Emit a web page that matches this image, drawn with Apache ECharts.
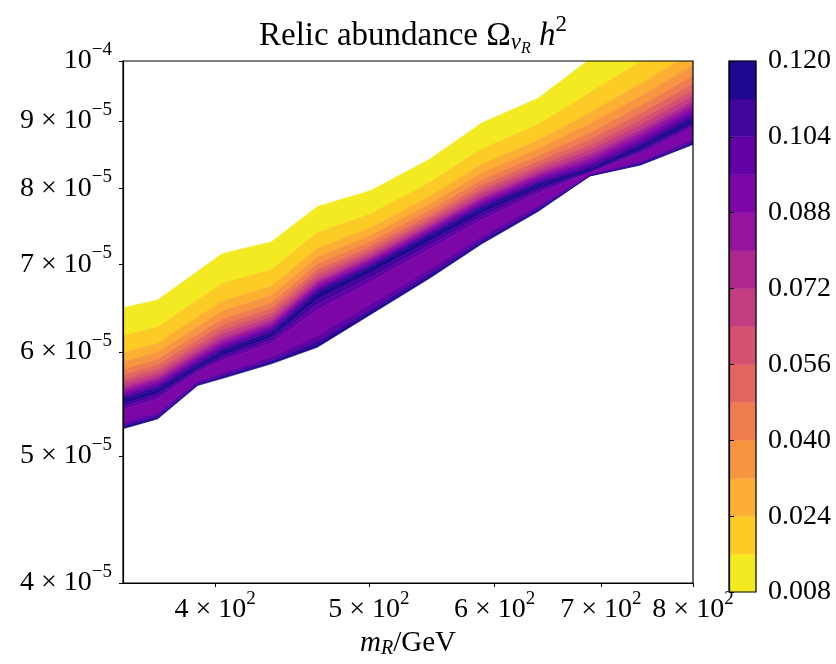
<!DOCTYPE html>
<html><head><meta charset="utf-8">
<script src="https://cdn.jsdelivr.net/npm/echarts@6/dist/echarts.min.js"></script>
<style>html,body{margin:0;padding:0;background:#fff}#c{width:836px;height:664px}</style>
</head><body><div id="c"></div>
<script>
// x grid (m_R in GeV)
const mR = [350, 368, 390, 404, 434, 464, 501, 546, 589, 639, 689, 741, 800];
// contour levels of Omega h^2
const levels = [0.008,0.016,0.024,0.032,0.040,0.048,0.056,0.064,0.072,0.080,0.088,0.096,0.104,0.112,0.120];
const cbTicks = [0.008,0.024,0.040,0.056,0.072,0.088,0.104,0.120];
const xTicks = [400,500,600,700,800];
const yTicks = [4e-5,5e-5,6e-5,7e-5,8e-5,9e-5,1e-4];
// contour line positions (y in units of 1e-5) along mR, upper fan
const c008 = [6.485,6.575,6.913,7.131,7.280,7.746,7.964,8.416,8.971,9.366,10.036,10.661,11.345];
const c016 = [6.174,6.269,6.574,6.767,6.934,7.398,7.645,8.079,8.571,8.945,9.461,9.988,10.584];
const c024 = [5.994,6.092,6.378,6.558,6.734,7.196,7.459,7.883,8.341,8.701,9.132,9.604,10.153];
const c032 = [5.897,5.996,6.272,6.445,6.626,7.087,7.358,7.776,8.215,8.568,8.954,9.397,9.921];
const c040 = [5.820,5.921,6.190,6.355,6.541,7.000,7.279,7.692,8.115,8.464,8.814,9.235,9.739];
const c048 = [5.763,5.865,6.128,6.289,6.477,6.935,7.218,7.629,8.041,8.385,8.710,9.116,9.604];
const c056 = [5.716,5.819,6.076,6.235,6.425,6.883,7.170,7.578,7.980,8.322,8.625,9.018,9.493];
const c064 = [5.678,5.782,6.036,6.192,6.384,6.840,7.131,7.536,7.932,8.270,8.558,8.938,9.407];
const c072 = [5.641,5.745,5.995,6.148,6.342,6.798,7.092,7.494,7.884,8.219,8.490,8.861,9.320];
const c080 = [5.614,5.718,5.965,6.116,6.311,6.767,7.064,7.465,7.849,8.182,8.440,8.804,9.256];
const c088 = [5.586,5.691,5.935,6.085,6.281,6.735,7.034,7.434,7.813,8.144,8.391,8.746,9.192];
const c096 = [5.563,5.668,5.911,6.058,6.255,6.710,7.010,7.408,7.783,8.113,8.349,8.699,9.138];
const c104 = [5.541,5.646,5.886,6.031,6.230,6.684,6.987,7.384,7.753,8.083,8.309,8.652,9.086];
const c112 = [5.523,5.627,5.866,6.011,6.210,6.664,6.967,7.363,7.730,8.058,8.276,8.614,9.044];
const c120 = [5.504,5.610,5.847,5.990,6.190,6.643,6.948,7.343,7.707,8.033,8.243,8.577,9.002];
// lower fold below the 0.120 ridge
const f112a = [5.478,5.582,5.828,5.963,6.158,6.582,6.892,7.290,7.660,7.997,8.236,8.552,8.965];
const f104a = [5.452,5.554,5.809,5.936,6.126,6.521,6.836,7.237,7.614,7.961,8.229,8.527,8.928];
const f096a = [5.425,5.526,5.790,5.910,6.094,6.460,6.781,7.185,7.569,7.926,8.222,8.502,8.890];
const f096b = [5.301,5.395,5.700,5.784,5.945,6.178,6.522,6.939,7.352,7.756,8.188,8.382,8.716];
const f104b = [5.276,5.368,5.681,5.758,5.914,6.121,6.469,6.889,7.308,7.721,8.181,8.358,8.680];
const f112b = [5.260,5.352,5.669,5.743,5.896,6.086,6.438,6.859,7.281,7.701,8.177,8.344,8.657];
const fEdge = [5.245,5.336,5.658,5.727,5.877,6.052,6.407,6.829,7.255,7.680,8.172,8.329,8.637];

const Y_UNIT = 1e-5;
const fanLines = [c008,c016,c024,c032,c040,c048,c056,c064,c072,c080,c088,c096,c104,c112,c120];
const foldLines = [c120,f112a,f104a,f096a,f096b,f104b,f112b,fEdge];
const foldBand = [13,12,11,10,11,12,13];

const plasmaStops = [[13,8,135],[65,4,157],[106,0,168],[143,13,164],[177,42,144],[204,71,120],[225,100,98],[242,132,75],[252,166,54],[252,206,37],[240,249,33]];
function plasma(t){
  const s = Math.max(0,Math.min(1,t))*10;
  const i = Math.min(9,Math.floor(s)); const f = s-i;
  const a = plasmaStops[i], b = plasmaStops[i+1];
  return 'rgb('+[0,1,2].map(k=>Math.round(a[k]+(b[k]-a[k])*f)).join(',')+')';
}
function bandColor(i){ return plasma(1-(i+0.5)/(levels.length-1)); }

const bands = [];
for (let i=0;i<fanLines.length-1;i++) bands.push({top:fanLines[i], bot:fanLines[i+1], c:i});
for (let j=0;j<foldLines.length-1;j++) bands.push({top:foldLines[j], bot:foldLines[j+1], c:foldBand[j]});

const FONT = '"Liberation Serif","DejaVu Serif",serif';
const richTick = {
  b:{fontFamily:FONT,fontSize:28,fontWeight:'normal',color:'#000'},
  s:{fontFamily:FONT,fontSize:19,fontWeight:'normal',color:'#000',padding:[0,0,22,0]}
};
function sci(v){
  const e = Math.floor(Math.log10(v)+1e-9);
  const m = Math.round(v/Math.pow(10,e));
  const es = (e<0?'\u2212':'')+Math.abs(e);
  return (m===1?'{b|10}':'{b|'+m+' \u00d7 10}')+'{s|'+es+'}';
}

const chart = echarts.init(document.getElementById('c'), null, {renderer:'canvas'});
chart.setOption({
  animation:false,
  backgroundColor:'#fff',
  title:{
    text:'{t|Relic abundance \u03a9}{nu|\u03bd}{r|R}{h| h}{sp|2}',
    left:408, top:8, textAlign:'center',
    textStyle:{fontWeight:'normal',rich:{
      t:{fontFamily:FONT,fontSize:33,fontWeight:'normal',color:'#000'},
      nu:{fontFamily:FONT,fontSize:23,fontStyle:'italic',fontWeight:'normal',color:'#000',padding:[12,0,0,0]},
      r:{fontFamily:FONT,fontSize:16,fontStyle:'italic',fontWeight:'normal',color:'#000',padding:[24,0,0,0]},
      h:{fontFamily:FONT,fontSize:33,fontStyle:'italic',fontWeight:'normal',color:'#000'},
      sp:{fontFamily:FONT,fontSize:23,fontWeight:'normal',color:'#000',padding:[0,0,24,0]}
    }}
  },
  grid:[
    {left:123, top:61, width:570, height:531},
    {left:729, top:61, width:27, height:531}
  ],
  xAxis:[
    {type:'log', gridIndex:0, logBase:10, min:350, max:800, z:10,
     axisLine:{show:true,lineStyle:{color:'#000',width:1.2}},
     axisTick:{show:true,customValues:xTicks,length:4,lineStyle:{color:'#000',width:1}},
     minorTick:{show:false}, splitLine:{show:false},
     axisLabel:{customValues:xTicks,margin:6,formatter:v=>sci(v),rich:richTick},
     name:'{m|m}{sub|R}{n|/GeV}', nameLocation:'middle', nameGap:38,
     nameTextStyle:{rich:{
       m:{fontFamily:FONT,fontSize:29,fontStyle:'italic',color:'#000'},
       sub:{fontFamily:FONT,fontSize:20,fontStyle:'italic',color:'#000',padding:[12,0,0,0]},
       n:{fontFamily:FONT,fontSize:29,color:'#000'}
     }}},
    {type:'value', gridIndex:1, min:0, max:1, show:false}
  ],
  yAxis:[
    {type:'log', gridIndex:0, logBase:10, min:4e-5, max:1e-4, z:10,
     axisLine:{show:true,lineStyle:{color:'#000',width:1.2}},
     axisTick:{show:true,customValues:yTicks,length:4,lineStyle:{color:'#000',width:1}},
     minorTick:{show:false}, splitLine:{show:false},
     axisLabel:{customValues:yTicks,margin:11,formatter:v=>sci(v),rich:richTick}},
    {type:'value', gridIndex:1, min:0.008, max:0.12, position:'right', z:10,
     axisLine:{show:true,lineStyle:{color:'#000',width:1.2}},
     axisTick:{show:true,customValues:cbTicks,length:5,inside:false,lineStyle:{color:'#000',width:1}},
     splitLine:{show:false},
     axisLabel:{customValues:cbTicks,margin:12,formatter:v=>v.toFixed(3),
       fontFamily:FONT,fontSize:28,color:'#000'}}
  ],
  series:[
    {type:'custom', xAxisIndex:0, yAxisIndex:0, clip:true, z:2,
     data:bands.map((b,k)=>[mR[0], b.top[0]*Y_UNIT, k]),
     renderItem:function(params, api){
       const b = bands[params.dataIndex];
       const pts = [];
       for (let j=0;j<mR.length;j++) pts.push(api.coord([mR[j], b.top[j]*Y_UNIT]));
       for (let j=mR.length-1;j>=0;j--) pts.push(api.coord([mR[j], b.bot[j]*Y_UNIT]));
       const col = bandColor(b.c);
       return {type:'polygon', shape:{points:pts}, style:{fill:col, stroke:col, lineWidth:0.6}};
     }},
    {type:'custom', xAxisIndex:0, yAxisIndex:0, z:20, silent:true,
     data:[[350,4e-5]],
     renderItem:function(params, api){
       const p0 = api.coord([350,4e-5]), p1 = api.coord([800,1e-4]);
       return {type:'rect', shape:{x:p0[0],y:p1[1],width:p1[0]-p0[0],height:p0[1]-p1[1]},
         style:{fill:'none',stroke:'#000',lineWidth:1.2}};
     }},
    {type:'custom', xAxisIndex:1, yAxisIndex:1, z:2,
     data:levels.slice(0,-1).map((lv,i)=>[0, lv, i]),
     renderItem:function(params, api){
       const i = params.dataIndex;
       const p0 = api.coord([0, levels[i]]), p1 = api.coord([1, levels[i+1]]);
       const col = bandColor(i);
       return {type:'rect', shape:{x:p0[0],y:p1[1],width:p1[0]-p0[0],height:p0[1]-p1[1]},
         style:{fill:col, stroke:col, lineWidth:0.5}};
     }},
    {type:'custom', xAxisIndex:1, yAxisIndex:1, z:20, silent:true,
     data:[[0,levels[0]]],
     renderItem:function(params, api){
       const p0 = api.coord([0, levels[0]]), p1 = api.coord([1, levels[levels.length-1]]);
       return {type:'rect', shape:{x:p0[0],y:p1[1],width:p1[0]-p0[0],height:p0[1]-p1[1]},
         style:{fill:'none',stroke:'#000',lineWidth:1.2}};
     }}
  ]
});
</script>
</body></html>
